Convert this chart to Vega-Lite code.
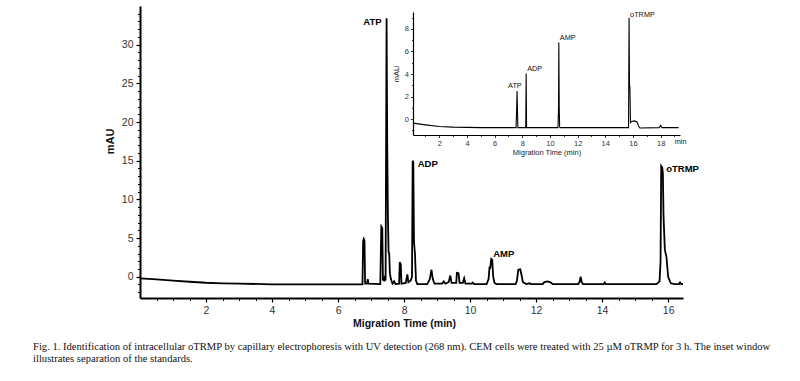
{
  "$schema": "https://vega.github.io/schema/vega-lite/v6.json",
  "width": 543,
  "height": 292,
  "autosize": {"type": "none"},
  "padding": {"left": 140, "top": 6, "right": 117, "bottom": 83},
  "background": "white",
  "config": {"view": {"stroke": null}, "axis": {"grid": false}},
  "title": {
    "text": ["Fig. 1.  Identification of intracellular oTRMP by capillary electrophoresis with UV detection (268 nm). CEM cells were treated with 25 \u00b5M oTRMP for 3 h. The inset window", "illustrates separation of the standards."],
    "orient": "bottom",
    "anchor": "start",
    "frame": "group",
    "dx": -107,
    "offset": 13,
    "font": "Liberation Serif",
    "fontSize": 10.6,
    "fontWeight": "normal",
    "color": "#111",
    "lineHeight": 12
  },
  "datasets": {
    "main": [
      {"t": 0, "v": -0.2}, {"t": 0.5, "v": -0.35}, {"t": 1.0, "v": -0.5}, {"t": 1.5, "v": -0.65},
      {"t": 2.0, "v": -0.78}, {"t": 2.5, "v": -0.85}, {"t": 3.0, "v": -0.9}, {"t": 4.0, "v": -0.98},
      {"t": 5.0, "v": -1.0}, {"t": 6.0, "v": -1.0}, {"t": 6.74, "v": -1.0}, {"t": 6.76, "v": 4.6},
      {"t": 6.78, "v": 4.9}, {"t": 6.8, "v": 4.7}, {"t": 6.82, "v": -0.9}, {"t": 6.88, "v": -0.9},
      {"t": 6.9, "v": -0.3}, {"t": 6.92, "v": -0.9}, {"t": 7.28, "v": -0.95}, {"t": 7.31, "v": 6.5},
      {"t": 7.34, "v": 6.3}, {"t": 7.36, "v": -0.5}, {"t": 7.38, "v": -0.2}, {"t": 7.4, "v": -0.6},
      {"t": 7.42, "v": 0.1}, {"t": 7.44, "v": -0.5}, {"t": 7.47, "v": 33.4}, {"t": 7.49, "v": 17},
      {"t": 7.51, "v": 8}, {"t": 7.53, "v": 3.2}, {"t": 7.55, "v": 3.0}, {"t": 7.57, "v": 0.5},
      {"t": 7.6, "v": -0.3}, {"t": 7.65, "v": -0.9}, {"t": 7.7, "v": -0.6}, {"t": 7.74, "v": -0.95},
      {"t": 7.85, "v": -0.9}, {"t": 7.87, "v": 1.9}, {"t": 7.9, "v": 1.6}, {"t": 7.92, "v": -0.9},
      {"t": 8.05, "v": -0.8}, {"t": 8.1, "v": 0.3}, {"t": 8.13, "v": -0.7}, {"t": 8.2, "v": -0.5},
      {"t": 8.24, "v": 0.0}, {"t": 8.26, "v": 15.0}, {"t": 8.28, "v": 14.8}, {"t": 8.3, "v": 4.5},
      {"t": 8.33, "v": 3.0}, {"t": 8.36, "v": -0.5}, {"t": 8.4, "v": -0.95}, {"t": 8.7, "v": -0.95},
      {"t": 8.78, "v": -0.3}, {"t": 8.83, "v": 0.9}, {"t": 8.87, "v": -0.3}, {"t": 8.92, "v": -0.9},
      {"t": 9.15, "v": -0.9}, {"t": 9.2, "v": -0.6}, {"t": 9.25, "v": -0.9}, {"t": 9.35, "v": -0.7},
      {"t": 9.4, "v": 0.15}, {"t": 9.44, "v": -0.8}, {"t": 9.58, "v": -0.8}, {"t": 9.6, "v": 0.5},
      {"t": 9.65, "v": 0.45}, {"t": 9.68, "v": -0.8}, {"t": 9.78, "v": -0.8}, {"t": 9.82, "v": -0.2},
      {"t": 9.86, "v": -0.9}, {"t": 10.05, "v": -0.9}, {"t": 10.08, "v": -0.75}, {"t": 10.12, "v": -0.95},
      {"t": 10.5, "v": -0.95}, {"t": 10.56, "v": -0.3}, {"t": 10.59, "v": 1.3}, {"t": 10.61, "v": 1.0},
      {"t": 10.64, "v": 2.3}, {"t": 10.67, "v": 2.2}, {"t": 10.7, "v": 0.0}, {"t": 10.74, "v": -0.8},
      {"t": 10.8, "v": -0.95}, {"t": 11.38, "v": -0.95}, {"t": 11.42, "v": -0.5}, {"t": 11.46, "v": 0.9},
      {"t": 11.52, "v": 0.95}, {"t": 11.56, "v": 0.2}, {"t": 11.6, "v": -0.7}, {"t": 11.7, "v": -0.95},
      {"t": 11.8, "v": -0.85}, {"t": 11.85, "v": -0.95}, {"t": 12.2, "v": -0.95}, {"t": 12.25, "v": -0.7},
      {"t": 12.35, "v": -0.6}, {"t": 12.45, "v": -0.75}, {"t": 12.5, "v": -0.95}, {"t": 13.28, "v": -0.95},
      {"t": 13.32, "v": -0.6}, {"t": 13.35, "v": 0.0}, {"t": 13.38, "v": -0.7}, {"t": 13.42, "v": -0.95},
      {"t": 14.05, "v": -0.95}, {"t": 14.08, "v": -0.75}, {"t": 14.11, "v": -0.95}, {"t": 15.65, "v": -0.95},
      {"t": 15.74, "v": -0.6}, {"t": 15.77, "v": 2.0}, {"t": 15.79, "v": 14.3}, {"t": 15.82, "v": 14.1},
      {"t": 15.84, "v": 13.4}, {"t": 15.86, "v": 7.8}, {"t": 15.9, "v": 3.5}, {"t": 15.95, "v": 2.5},
      {"t": 16.0, "v": 0.0}, {"t": 16.08, "v": -0.85}, {"t": 16.2, "v": -0.95}, {"t": 16.33, "v": -0.95},
      {"t": 16.36, "v": -0.75}, {"t": 16.4, "v": -0.95}, {"t": 16.45, "v": -0.95}
    ],
    "mainLabels": [
      {"t": 7.47, "v": 32.9, "label": "ATP", "side": "r"},
      {"t": 8.26, "v": 14.6, "label": "ADP", "side": "l"},
      {"t": 10.55, "v": 2.95, "label": "AMP", "side": "l"},
      {"t": 15.79, "v": 13.9, "label": "oTRMP", "side": "l"}
    ],
    "inset": [
      {"t": 0.1, "v": -0.35}, {"t": 1.0, "v": -0.5}, {"t": 2.0, "v": -0.65}, {"t": 3.0, "v": -0.7},
      {"t": 4.0, "v": -0.72}, {"t": 5.0, "v": -0.75}, {"t": 7.55, "v": -0.75}, {"t": 7.6, "v": 1.2},
      {"t": 7.62, "v": 2.5}, {"t": 7.65, "v": 1.0}, {"t": 7.68, "v": -0.75}, {"t": 8.25, "v": -0.75},
      {"t": 8.28, "v": 4.05}, {"t": 8.31, "v": -0.75}, {"t": 10.58, "v": -0.75}, {"t": 10.62, "v": 1.0},
      {"t": 10.64, "v": 6.8}, {"t": 10.67, "v": 1.0}, {"t": 10.7, "v": -0.7}, {"t": 10.75, "v": -0.75},
      {"t": 15.68, "v": -0.75}, {"t": 15.72, "v": 9.0}, {"t": 15.75, "v": 3.0}, {"t": 15.78, "v": 2.8},
      {"t": 15.82, "v": -0.3}, {"t": 15.9, "v": -0.2}, {"t": 16.1, "v": -0.15}, {"t": 16.3, "v": -0.25},
      {"t": 16.4, "v": -0.6}, {"t": 16.5, "v": -0.78}, {"t": 17.9, "v": -0.75}, {"t": 18.0, "v": -0.55},
      {"t": 18.1, "v": -0.75}, {"t": 19.3, "v": -0.75}
    ],
    "insetLabels": [
      {"t": 6.9, "v": 2.9, "label": "ATP"},
      {"t": 8.28, "v": 4.45, "label": "ADP"},
      {"t": 10.64, "v": 7.2, "label": "AMP"},
      {"t": 15.72, "v": 9.25, "label": "oTRMP"},
      {"t": 18.95, "v": -2.0, "label": "min"}
    ]
  },
  "layer": [
    {
      "layer": [
        {
          "data": {"name": "main"},
          "mark": {"type": "line", "color": "#000", "strokeWidth": 1.8, "clip": true},
          "encoding": {
            "x": {
              "field": "t", "type": "quantitative",
              "scale": {"domain": [0, 16.45], "nice": false, "zero": false},
              "axis": {
                "title": "Migration Time (min)",
                "titleFont": "Liberation Sans", "titleFontSize": 10.5, "titleFontWeight": "bold", "titleColor": "#111",
                "titlePadding": 3, "titleX": 264,
                "values": [2, 4, 6, 8, 10, 12, 14, 16],
                "labelFont": "Liberation Sans", "labelFontSize": 10.5, "labelColor": "#333",
                "labelPadding": 3,
                "domainColor": "#000", "domainWidth": 2,
                "tickColor": "#000", "tickWidth": 1.2, "tickSize": 4
              }
            },
            "y": {
              "field": "v", "type": "quantitative",
              "scale": {"domain": [-2.75, 35], "nice": false, "zero": false},
              "axis": {
                "title": "mAU",
                "titleFont": "Liberation Sans", "titleFontSize": 11, "titleFontWeight": "bold", "titleColor": "#111",
                "titlePadding": 6, "titleY": 135,
                "values": [0, 5, 10, 15, 20, 25, 30],
                "labelFont": "Liberation Sans", "labelFontSize": 10.5, "labelColor": "#333",
                "labelPadding": 3,
                "domainColor": "#000", "domainWidth": 2,
                "tickColor": "#000", "tickWidth": 1.2, "tickSize": 4
              }
            }
          }
        },
        {
          "data": {"name": "mainLabels"},
          "transform": [{"filter": "datum.side === 'r'"}],
          "mark": {"type": "text", "font": "Liberation Sans", "fontSize": 9.5, "fontWeight": "bold", "color": "#000", "baseline": "middle", "align": "right", "dx": -5},
          "encoding": {
            "x": {"field": "t", "type": "quantitative"},
            "y": {"field": "v", "type": "quantitative"},
            "text": {"field": "label"}
          }
        },
        {
          "data": {"name": "mainLabels"},
          "transform": [{"filter": "datum.side === 'l'"}],
          "mark": {"type": "text", "font": "Liberation Sans", "fontSize": 9.5, "fontWeight": "bold", "color": "#000", "baseline": "middle", "align": "left", "dx": 5},
          "encoding": {
            "x": {"field": "t", "type": "quantitative"},
            "y": {"field": "v", "type": "quantitative"},
            "text": {"field": "label"}
          }
        }
      ]
    },
    {
      "data": {"name": "main"},
      "mark": {"type": "line", "opacity": 0},
      "encoding": {
        "x": {
          "field": "t", "type": "quantitative",
          "scale": {"domain": [0, 16.45], "nice": false, "zero": false},
          "axis": {
            "orient": "bottom", "title": null, "labels": false, "domain": false,
            "values": [0.5, 1, 1.5, 2.5, 3, 3.5, 4.5, 5, 5.5, 6.5, 7, 7.5, 8.5, 9, 9.5, 10.5, 11, 11.5, 12.5, 13, 13.5, 14.5, 15, 15.5],
            "tickColor": "#000", "tickWidth": 1, "tickSize": 2.5
          }
        },
        "y": {
          "field": "v", "type": "quantitative",
          "scale": {"domain": [-2.75, 35], "nice": false, "zero": false},
          "axis": {
            "orient": "left", "title": null, "labels": false, "domain": false,
            "values": [-2, -1, 1, 2, 3, 4, 6, 7, 8, 9, 11, 12, 13, 14, 16, 17, 18, 19, 21, 22, 23, 24, 26, 27, 28, 29, 31, 32, 33, 34],
            "tickColor": "#000", "tickWidth": 1, "tickSize": 2.5
          }
        }
      }
    },
    {
      "layer": [
        {
          "data": {"name": "inset"},
          "mark": {"type": "line", "color": "#000", "strokeWidth": 1.1},
          "encoding": {
            "x": {
              "field": "t", "type": "quantitative",
              "scale": {"domain": [0.1, 19.4], "nice": false, "zero": false, "range": [273, 540]},
              "axis": {
                "orient": "bottom", "offset": -163,
                "title": "Migration Time (min)",
                "titleFont": "Liberation Sans", "titleFontSize": 7.5, "titleFontWeight": "normal", "titleColor": "#222",
                "titlePadding": 1,
                "values": [2, 4, 6, 8, 10, 12, 14, 16, 18],
                "labelFont": "Liberation Sans", "labelFontSize": 7.5, "labelColor": "#333",
                "labelPadding": 2,
                "domainColor": "#000", "domainWidth": 1.2,
                "tickColor": "#000", "tickWidth": 0.8, "tickSize": 2.5
              }
            },
            "y": {
              "field": "v", "type": "quantitative",
              "scale": {"domain": [-1.4, 9.5], "nice": false, "zero": false, "range": [129, 6]},
              "axis": {
                "orient": "left", "offset": -273,
                "title": "mAU",
                "titleFont": "Liberation Sans", "titleFontSize": 7.5, "titleFontWeight": "normal", "titleColor": "#222",
                "titlePadding": 4,
                "values": [0, 2, 4, 6, 8],
                "labelFont": "Liberation Sans", "labelFontSize": 7.5, "labelColor": "#333",
                "labelPadding": 2,
                "domainColor": "#000", "domainWidth": 1.2,
                "tickColor": "#000", "tickWidth": 0.8, "tickSize": 2.5
              }
            }
          }
        },
        {
          "data": {"name": "insetLabels"},
          "mark": {"type": "text", "font": "Liberation Sans", "fontSize": 7.3, "color": "#111", "baseline": "middle", "align": "left", "dx": 1},
          "encoding": {
            "x": {"field": "t", "type": "quantitative"},
            "y": {"field": "v", "type": "quantitative"},
            "text": {"field": "label"}
          }
        }
      ]
    },
    {
      "data": {"name": "inset"},
      "mark": {"type": "line", "opacity": 0},
      "encoding": {
        "x": {
          "field": "t", "type": "quantitative",
          "scale": {"domain": [0.1, 19.4], "nice": false, "zero": false, "range": [273, 540]},
          "axis": {
            "orient": "bottom", "offset": -163, "title": null, "labels": false, "domain": false,
            "values": [1, 3, 5, 7, 9, 11, 13, 15, 17, 19],
            "tickColor": "#000", "tickWidth": 0.8, "tickSize": 1.5
          }
        },
        "y": {
          "field": "v", "type": "quantitative",
          "scale": {"domain": [-1.4, 9.5], "nice": false, "zero": false, "range": [129, 6]},
          "axis": {
            "orient": "left", "offset": -273, "title": null, "labels": false, "domain": false,
            "values": [-1, 1, 3, 5, 7, 9],
            "tickColor": "#000", "tickWidth": 0.8, "tickSize": 1.5
          }
        }
      }
    }
  ],
  "resolve": {"scale": {"x": "independent", "y": "independent"}, "axis": {"x": "independent", "y": "independent"}}
}
